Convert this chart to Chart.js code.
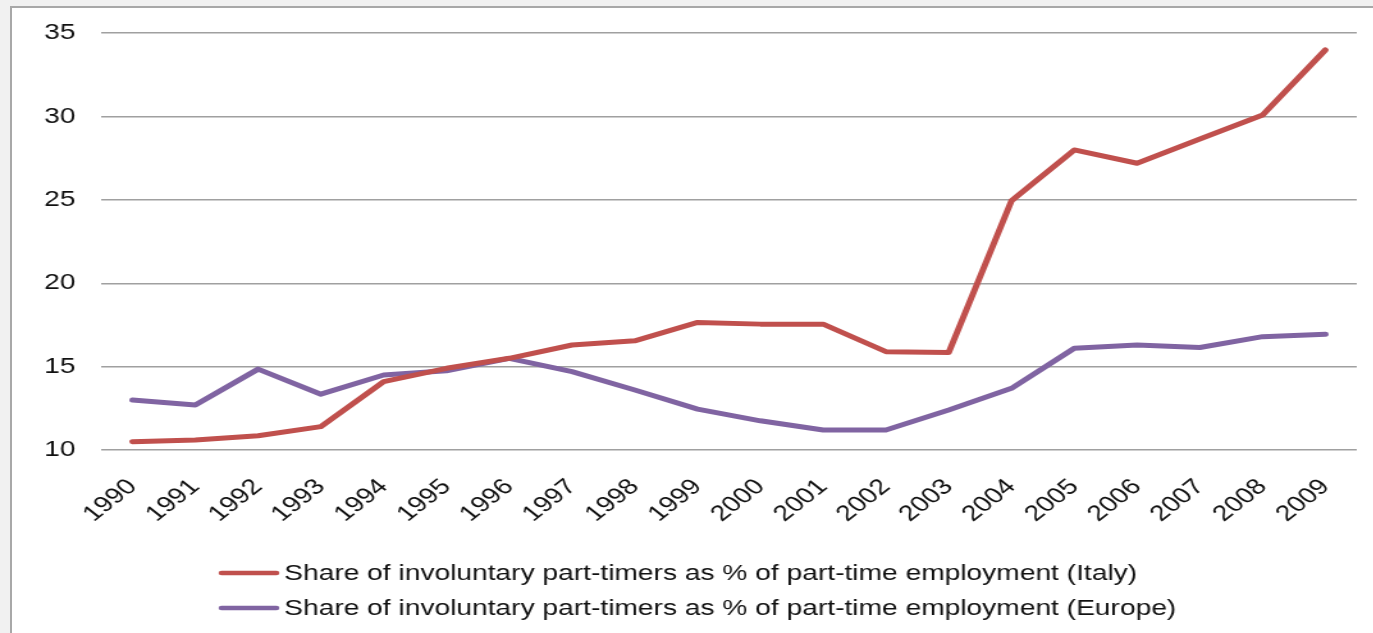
<!DOCTYPE html>
<html>
<head>
<meta charset="utf-8">
<script src="https://cdn.jsdelivr.net/npm/chart.js@4/dist/chart.umd.min.js"></script>
<style>
  html, body { margin: 0; padding: 0; background: #f1f1f1; overflow: hidden; }
  #frame {
    position: absolute; left: 10px; top: 6px; width: 1380px; height: 640px;
    background: #ffffff; border: 2px solid #a8a8a8;
  }
  /* the plot is drawn narrow and widened horizontally */
  #wrap {
    position: absolute; left: 0; top: 0; width: 1073px; height: 633px;
    transform: scaleX(1.28); transform-origin: 0 0;
  }
</style>
</head>
<body>
<div id="frame"></div>
<div id="wrap"><canvas id="chart" width="1073" height="633"></canvas></div>
<script>
// years on the category axis
const years = ['1990', '1991', '1992', '1993', '1994', '1995', '1996', '1997', '1998', '1999',
               '2000', '2001', '2002', '2003', '2004', '2005', '2006', '2007', '2008', '2009'];

// involuntary part-timers, % of part-time employment
const italy = [10.5, 10.6, 10.85, 11.4, 14.1, 14.9, 15.5, 16.3, 16.55, 17.65,
               17.55, 17.55, 15.9, 15.85, 24.95, 28.0, 27.2, 28.65, 30.1, 34.0];
const europe = [13.0, 12.7, 14.85, 13.35, 14.5, 14.75, 15.5, 14.7, 13.6, 12.45,
                11.75, 11.2, 11.2, 12.4, 13.7, 16.1, 16.3, 16.15, 16.8, 16.95];

const seriesNames = [
  'Share of involuntary part-timers as % of part-time employment (Italy)',
  'Share of involuntary part-timers as % of part-time employment (Europe)'
];

const yMin = 10, yMax = 35, yStep = 5;

const FONT = 'Liberation Sans, Arial, sans-serif';

// legend drawn underneath, rows left-aligned
const lineLegend = {
  id: 'lineLegend',
  afterDraw(chart) {
    const ctx = chart.ctx;
    const top = chart.chartArea.bottom;
    ctx.save();
    ctx.font = '22px ' + FONT;
    ctx.textBaseline = 'middle';
    chart.data.datasets.forEach((ds, i) => {
      const y = top + 123 + i * 35;
      ctx.strokeStyle = ds.borderColor;
      ctx.lineWidth = 4.5;
      ctx.lineCap = 'round';
      ctx.beginPath();
      ctx.moveTo(173, y);
      ctx.lineTo(216, y);
      ctx.stroke();
      ctx.fillStyle = '#111';
      ctx.fillText(ds.label, 222, y + 1);
    });
    ctx.restore();
  }
};

new Chart(document.getElementById('chart'), {
  type: 'line',
  data: {
    labels: years,
    datasets: [
      { label: seriesNames[0], data: italy, borderColor: '#c0504d', borderWidth: 5,
        pointRadius: 0, tension: 0, borderCapStyle: 'round', borderJoinStyle: 'round' },
      { label: seriesNames[1], data: europe, borderColor: '#8064a2', borderWidth: 5,
        pointRadius: 0, tension: 0, borderCapStyle: 'round', borderJoinStyle: 'round' }
    ]
  },
  options: {
    responsive: false,
    animation: false,
    layout: { padding: { top: 26, right: 13, left: 0, bottom: 0 } },
    plugins: {
      legend: { display: false },
      tooltip: { enabled: false }
    },
    scales: {
      x: {
        offset: true,
        grid: { display: false, drawTicks: false },
        border: { display: false },
        ticks: {
          minRotation: 45, maxRotation: 45, autoSkip: false, padding: 24,
          color: '#111', font: { family: FONT, size: 22 }
        },
        afterFit(scale) {
          scale.height = 183;
          // rotated labels end at their tick, no extra room needed at the sides
          scale.paddingLeft = 0;
          scale.paddingRight = 0;
        }
      },
      y: {
        min: yMin, max: yMax,
        grid: { color: '#a0a0a0', lineWidth: 1.5, drawTicks: false },
        border: { display: false },
        ticks: {
          stepSize: yStep, padding: 20,
          color: '#111', font: { family: FONT, size: 22 }
        },
        afterFit(scale) { scale.width = 79; }
      }
    }
  },
  plugins: [lineLegend]
});
</script>
</body>
</html>
